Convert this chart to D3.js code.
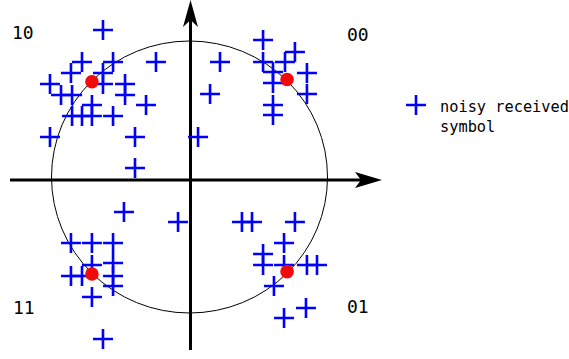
<!DOCTYPE html>
<html>
<head>
<meta charset="utf-8">
<script src="https://cdn.jsdelivr.net/npm/d3@7"></script>
<style>
  html, body { margin: 0; padding: 0; background: #fff; }
  svg { display: block; }
</style>
</head>
<body>
<svg id="chart" width="569" height="359"></svg>
<script>
// Noisy received symbols (in-phase / quadrature)
const noisyX = [
  // quadrant 10
  -0.627, -0.779, -0.554, -0.243, -0.859, -0.627, -1.011, -0.467, -0.931, -0.467,
  -0.627, -0.707, -0.315, -0.851, -0.779, -0.707, -0.554, -1.011, -0.395, -0.395, -0.851,
  // quadrant 00
  0.533, 0.764, 0.221, 0.533, 0.692, 0.605, 0.851, 0.605, 0.851, 0.605, 0.605, 0.149, 0.062,
  // quadrant 11
  -0.859, -0.707, -0.554, -0.554, -0.707, -0.859, -0.779, -0.554, -0.554, -0.707, -0.627,
  -0.475, -0.083,
  // quadrant 01
  0.380, 0.453, 0.764, 0.685, 0.533, 0.533, 0.685, 0.851, 0.924, 0.612, 0.844, 0.685
];
const noisyY = [
  // quadrant 10
  1.081, 0.846, 0.846, 0.846, 0.765, 0.765, 0.684, 0.684, 0.603, 0.603,
  0.684, 0.529, 0.529, 0.449, 0.449, 0.449, 0.449, 0.294, 0.294, 0.066, 0.603,
  // quadrant 00
  1.007, 0.919, 0.846, 0.846, 0.846, 0.772, 0.765, 0.691, 0.610, 0.529, 0.456, 0.610, 0.294,
  // quadrant 11
  -0.485, -0.485, -0.485, -0.632, -0.647, -0.728, -0.728, -0.728, -0.801, -0.882, -1.191,
  -0.257, -0.331,
  // quadrant 01
  -0.331, -0.331, -0.331, -0.485, -0.566, -0.647, -0.647, -0.647, -0.647, -0.801, -0.963, -1.037
];

// Ideal constellation points
const idealX = [-0.707, 0.707, -0.707, 0.707];
const idealY = [0.700, 0.717, -0.713, -0.696];
const bitLabels = ["10", "00", "11", "01"];
const legendLines = ["noisy received", "symbol"];

const svg = d3.select("#chart");
const x = d3.scaleLinear().domain([-1, 1]).range([51.5, 327.5]);
const y = d3.scaleLinear().domain([-1, 1]).range([313, 41]);

// unit circle
svg.append("ellipse")
  .attr("cx", x(0)).attr("cy", y(0))
  .attr("rx", x(1) - x(0)).attr("ry", y(0) - y(1))
  .attr("fill", "none").attr("stroke", "#000").attr("stroke-width", 1);

// axes
const ax = x(0) + 1, ay = y(0) + 3;
svg.append("line").attr("x1", 10).attr("x2", 365).attr("y1", ay).attr("y2", ay)
  .attr("stroke", "#000").attr("stroke-width", 3);
svg.append("line").attr("x1", ax).attr("x2", ax).attr("y1", 350).attr("y2", 15)
  .attr("stroke", "#000").attr("stroke-width", 3);
// arrowheads
const rt = 382;
svg.append("path")
  .attr("d", `M${rt},${ay} L${rt-27},${ay-8} L${rt-21},${ay} L${rt-27},${ay+8} Z`)
  .attr("fill", "#000");
const tp = 0;
svg.append("path")
  .attr("d", `M${ax},${tp} L${ax+7.5},${tp+27} L${ax},${tp+20} L${ax-7.5},${tp+27} Z`)
  .attr("fill", "#000");

// plus markers
const plus = d3.symbol().type(d3.symbolCross);
const pts = noisyX.map((v, i) => [v, noisyY[i]]);
const h = 10;
svg.append("g").selectAll("path").data(pts).join("path")
  .attr("d", d => `M${x(d[0]) - h},${y(d[1])} H${x(d[0]) + h} M${x(d[0])},${y(d[1]) - h} V${y(d[1]) + h}`)
  .attr("stroke", "#0000ff").attr("stroke-width", 2.6).attr("fill", "none");

// ideal points
svg.append("g").selectAll("circle").data(idealX).join("circle")
  .attr("cx", d => x(d)).attr("cy", (d, i) => y(idealY[i]))
  .attr("r", 6.8).attr("fill", "#f00a0a");

// quadrant labels
const labelPos = [[12, 38.5], [347, 41], [13, 314], [347, 313]];
svg.append("g").selectAll("text").data(bitLabels).join("text")
  .attr("x", (d, i) => labelPos[i][0]).attr("y", (d, i) => labelPos[i][1])
  .attr("font-family", "DejaVu Sans Mono").attr("font-size", 18)
  .attr("fill", "#000").text(d => d);

// legend
const lg = svg.append("g");
lg.append("path").attr("d", `M406,105 H426 M416,95 V115`)
  .attr("stroke", "#0000ff").attr("stroke-width", 2.6);
lg.selectAll("text").data(legendLines).join("text")
  .attr("x", 440).attr("y", (d, i) => 111.5 + i * 20.5)
  .attr("font-family", "DejaVu Sans Mono").attr("font-size", 15.3)
  .attr("fill", "#000").text(d => d);
</script>
</body>
</html>
